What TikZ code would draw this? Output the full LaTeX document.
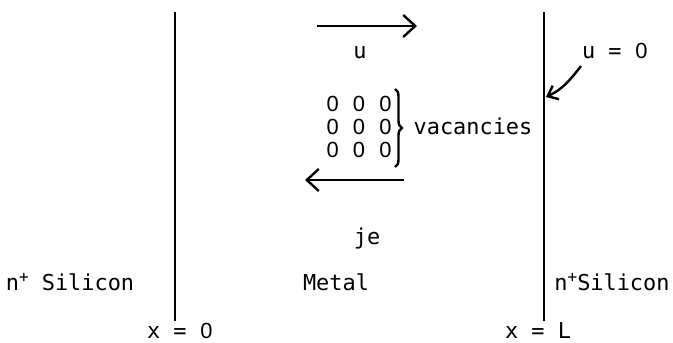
\documentclass[tikz,border=0pt]{standalone}
\usepackage{fontspec}
\setmonofont{DejaVu Sans Mono}
\newfontfamily\digitfont{Liberation Sans}
\usetikzlibrary{arrows.meta, decorations.pathreplacing}

% plain zero in a monospaced cell
\newcommand{\zr}{\makebox[0.602em]{\digitfont 0}}
\newcommand{\nplus}{n\raisebox{0.33em}{\fontsize{16}{16}\selectfont +}}

\begin{document}
\begin{tikzpicture}
  [
    x=1pt, y=-1pt,
    font=\ttfamily\fontsize{21.9}{23}\selectfont,
    label/.style={anchor=base, inner sep=0pt},
    wall/.style={line width=2.4pt},
    flow/.style={line width=2.8pt, -{Straight Barb[length=12pt, width=22pt, line width=2.4pt]}},
    pointer/.style={line width=2.4pt, -{Straight Barb[length=9pt, width=15pt, line width=2.4pt]}}
  ]
    \useasboundingbox (0,0) rectangle (673,343);
    % =========================================================================
    % NODES
    % =========================================================================
    \coordinate (wall0top) at (175,12);
    \coordinate (wall0bot) at (175,321);
    \coordinate (wallLtop) at (544,12);
    \coordinate (wallLbot) at (544,321);

    \node [label] (x0) at (180,338) {x = \zr};
    \node [label] (xL) at (538,338) {x = L};

    \node [label] (siliconL) at (70,290) {\nplus{} Silicon};
    \node [label] (metal) at (336,290) {Metal};
    \node [label] (siliconR) at (612,290) {\nplus{}Silicon};

    \coordinate (utail) at (317,26);
    \coordinate (uhead) at (417,26);
    \node [label] (u) at (360,58) {u};

    \node [label] (zeros1) at (359,111) {\zr{} \zr{} \zr};
    \node [label] (zeros2) at (359,134) {\zr{} \zr{} \zr};
    \node [label] (zeros3) at (359,157) {\zr{} \zr{} \zr};
    \coordinate (bracetop) at (395,89);
    \coordinate (bracebot) at (395,167);
    \node [label] (vac) at (473,134) {vacancies};

    \coordinate (jtail) at (404,180);
    \coordinate (jhead) at (305,180);
    \node [label] (je) at (367,244) {je};

    \node [label] (uzero) at (615,58) {u = \zr};
    \coordinate (ustart) at (581,66);
    \coordinate (uend) at (546,97);

    % =========================================================================
    % PATHS
    % =========================================================================
    % --- WALLS ---
    \draw [wall] (wall0top) -- (wall0bot);
    \draw [wall] (wallLtop) -- (wallLbot);
    % --- ARROWS ---
    \draw [flow] (utail) -- (uhead);
    \draw [flow] (jtail) -- (jhead);
    \draw [pointer] (ustart) to [out=232, in=25] (uend);
    % --- BRACE ---
    \draw [line width=2.4pt, decorate,
      decoration={brace, amplitude=7pt}] (bracetop) -- (bracebot);

  \end{tikzpicture}
\end{document}
